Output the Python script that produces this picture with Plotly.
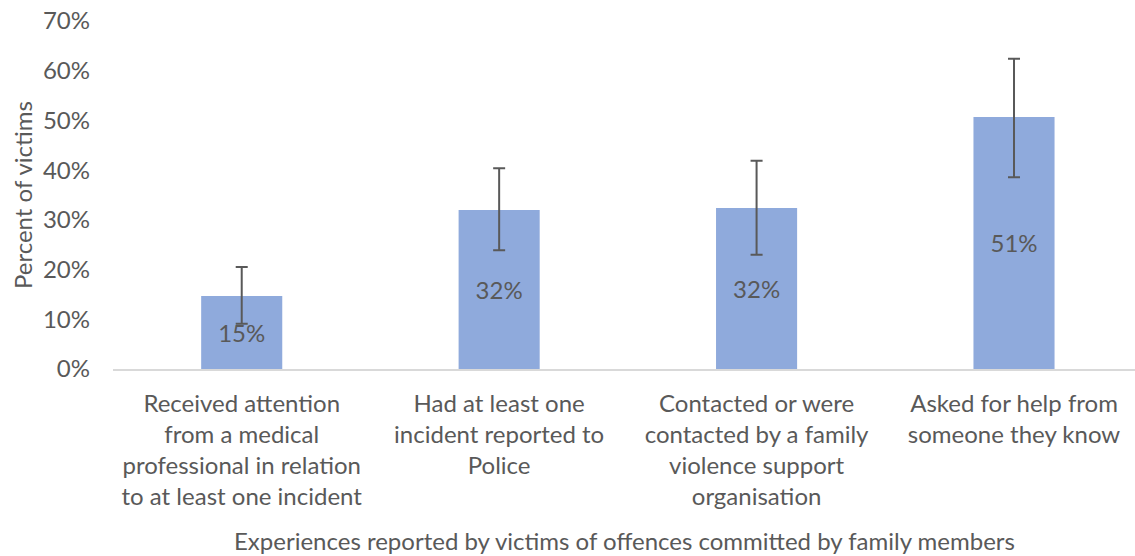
import plotly.graph_objects as go

categories = [
    "Received attention<br>from a medical<br>professional in relation<br>to at least one incident",
    "Had at least one<br>incident reported to<br>Police",
    "Contacted or were<br>contacted by a family<br>violence support<br>organisation",
    "Asked for help from<br>someone they know",
]
percent = [0.147, 0.320, 0.324, 0.507]
ci_upper = [0.205, 0.404, 0.419, 0.624]
ci_lower = [0.091, 0.239, 0.230, 0.386]
y_ticks = [0, 0.1, 0.2, 0.3, 0.4, 0.5, 0.6, 0.7]

err_plus = [u - v for u, v in zip(ci_upper, percent)]
err_minus = [v - l for v, l in zip(percent, ci_lower)]

FONT = "Lato"
GREY = "#595959"
SIZE = 24

fig = go.Figure()
fig.add_trace(go.Bar(
    x=categories,
    y=percent,
    marker=dict(color="#8faadc", line=dict(width=0)),
    texttemplate="%{y:.0%}",
    textposition="inside",
    insidetextanchor="middle",
    textfont=dict(family=FONT, size=SIZE, color=GREY),
    error_y=dict(type="data", array=err_plus, arrayminus=err_minus,
                 color=GREY, thickness=2, width=6),
    hoverinfo="skip",
))

fig.update_layout(
    width=1135, height=556,
    margin=dict(l=113, r=0, t=21, b=187),
    plot_bgcolor="white", paper_bgcolor="white",
    bargap=0.685,
    showlegend=False,
    font=dict(family=FONT, size=SIZE, color=GREY),
    xaxis=dict(
        range=[-0.5, 3.47],
        showline=True, linecolor="#d9d9d9", linewidth=2,
        ticks="", showgrid=False,
        ticklabelstandoff=12,
        tickfont=dict(family=FONT, size=SIZE, color=GREY),
    ),
    yaxis=dict(
        range=[0, 0.7001], tickvals=y_ticks, tickformat=".0%",
        showgrid=False, zeroline=False, showline=False, ticks="",
        ticklabelstandoff=22,
        tickfont=dict(family=FONT, size=SIZE, color=GREY),
    ),
    annotations=[
        dict(text="Percent of victims", textangle=-90,
             xref="paper", yref="paper", x=-0.089, y=0.5,
             xanchor="center", yanchor="middle",
             showarrow=False, font=dict(family=FONT, size=SIZE, color=GREY)),
        dict(text="Experiences reported by victims of offences committed by family members",
             xref="paper", yref="paper", x=0.5, y=-0.494, yanchor="middle",
             showarrow=False, font=dict(family=FONT, size=SIZE, color=GREY)),
    ],
)

# drop the default 8px body margin so the figure sits at the page corner
fig.write_html("out.html", config={"displayModeBar": False},
               post_script="document.body.style.margin='0';")
